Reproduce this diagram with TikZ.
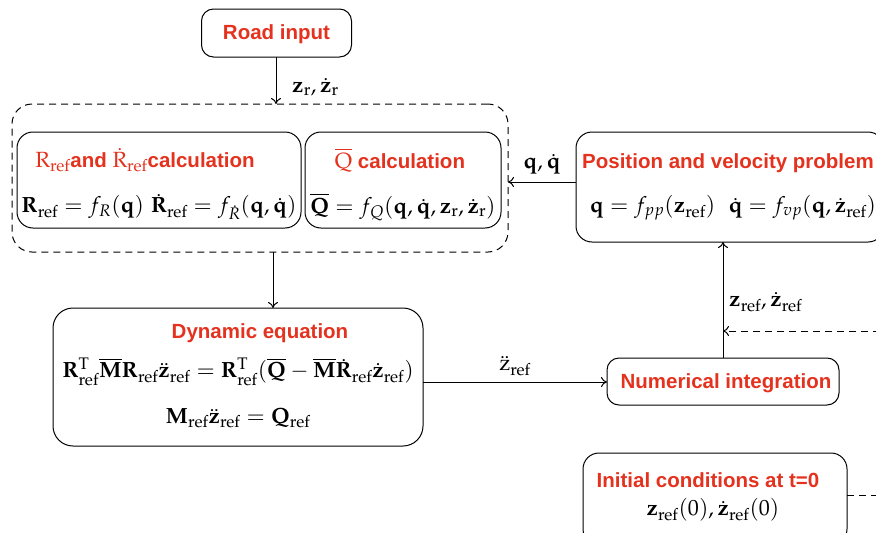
\documentclass[tikz,border=0pt]{standalone}
\usepackage{mathpazo}
\usepackage[no-math]{fontspec}
\newfontfamily\hv{Liberation Sans}
\usetikzlibrary{arrows.meta}
\definecolor{tred}{RGB}{228,50,30}
\newcommand{\bb}[1]{\mathbf{#1}}
\newcommand{\rf}{_{\mathrm{ref}}}
\begin{document}
\begin{tikzpicture}[x=1pt,y=-1pt,
  box/.style={draw, line width=1pt, rounded corners=12pt, inner sep=0pt},
  dsh/.style={dash pattern=on 7pt off 5pt},
  title/.style={text=tred, font=\fontsize{20.5}{24}\selectfont\hv\bfseries, inner sep=0pt},
  eq/.style={font=\fontsize{22}{26}\selectfont, inner sep=0pt},
  arr/.style={-{To[length=6pt,width=10pt]}, line width=1pt},
  lab/.style={font=\fontsize{22}{26}\selectfont, inner sep=0pt}]
\useasboundingbox (0,0) rectangle (876,533);
\begin{scope}
\clip (0,0) rectangle (876,533);
% boxes
\node[box, minimum width=150pt, minimum height=48pt] (road) at (276.5,33) {};
\node[box, dsh, rounded corners=20pt, minimum width=496pt, minimum height=148pt] (grp) at (260,178) {};
\node[box, rounded corners=16pt, minimum width=284pt, minimum height=96pt] (rcalc) at (159,180) {};
\node[box, rounded corners=16pt, minimum width=196pt, minimum height=96pt] (qcalc) at (403,180) {};
\node[box, rounded corners=16pt, minimum width=308pt, minimum height=110pt] (pos) at (730,187) {};
\node[box, rounded corners=20pt, minimum width=370pt, minimum height=138pt] (dyn) at (238,377) {};
\node[box, minimum width=232pt, minimum height=47pt] (num) at (723,381.5) {};
\node[box, rounded corners=16pt, minimum width=264pt, minimum height=92pt] (init) at (715,499) {};
% texts
\node[title] (roadt) at (276.5,34) {Road input};
\node[title] (rcalct) at (145,160) {{\fontsize{22}{26}\selectfont\color{tred}$\mathrm{R}\rf$}and\ {\fontsize{22}{26}\selectfont\color{tred}$\dot{\mathrm{R}}\rf$}calculation};
\node[eq] (rcalce) at (159,207) {$\bb{R}\rf = f_R(\bb{q})\ \dot{\bb{R}}\rf = f_{\dot{R}}(\bb{q},\dot{\bb{q}})$};
\node[title] (qcalct) at (400,160) {{\fontsize{22}{26}\selectfont\color{tred}$\overline{\mathrm{Q}}$} calculation};
\node[eq] (qcalce) at (403,207) {$\overline{\bb{Q}} = f_Q(\bb{q},\dot{\bb{q}},\bb{z}_{\mathrm{r}},\dot{\bb{z}}_{\mathrm{r}})$};
\node[title] (post) at (728,163) {Position and velocity problem};
\node[eq] (pose) at (733,208) {$\bb{q} = f_{pp}(\bb{z}\rf)\ \ \dot{\bb{q}} = f_{vp}(\bb{q},\dot{\bb{z}}\rf)$};
\node[title] (dynt) at (260,333) {Dynamic equation};
\node[eq] (dyne1) at (238,372) {$\bb{R}\rf^{\mathrm{T}}\overline{\bb{M}}\bb{R}\rf\ddot{\bb{z}}\rf = \bb{R}\rf^{\mathrm{T}}(\overline{\bb{Q}} - \overline{\bb{M}}\dot{\bb{R}}\rf\dot{\bb{z}}\rf)$};
\node[eq] (dyne2) at (238,418) {$\bb{M}\rf\ddot{\bb{z}}\rf = \bb{Q}\rf$};
\node[title] (numt) at (726,383) {Numerical integration};
\node[title] (initt) at (708,480) {Initial conditions at t=0};
\node[eq] (inite) at (713,510) {$\bb{z}\rf(0),\dot{\bb{z}}\rf(0)$};
% connectors
\coordinate (a1) at (276,57);
\coordinate (a2) at (276,104);
\draw[arr] (a1) -- (a2);
\node[lab, anchor=west] (zr) at (292,87) {$\bb{z}_{\mathrm{r}},\dot{\bb{z}}_{\mathrm{r}}$};
\coordinate (b1) at (273,252);
\coordinate (b2) at (273,308);
\draw[arr] (b1) -- (b2);
\coordinate (c1) at (576,182);
\coordinate (c2) at (508,182);
\draw[arr] (c1) -- (c2);
\node[lab] (qq) at (542,164) {$\bb{q},\dot{\bb{q}}$};
\coordinate (d1) at (423,382);
\coordinate (d2) at (607,382);
\draw[arr] (d1) -- (d2);
\node[lab] (zdd) at (515,366) {$\ddot{\mathrm{z}}\rf$};
\coordinate (e1) at (723,358);
\coordinate (e2) at (723,242);
\draw[arr] (e1) -- (e2);
\node[lab, anchor=west] (zz) at (729,302) {$\bb{z}\rf,\dot{\bb{z}}\rf$};
\coordinate (f1) at (880,331);
\coordinate (f2) at (723,331);
\draw[arr, dsh] (f1) -- (f2);
\coordinate (g1) at (847,495);
\coordinate (g2) at (880,495);
\draw[dsh, line width=1pt] (g1) -- (g2);
\end{scope}
\end{tikzpicture}
\end{document}
